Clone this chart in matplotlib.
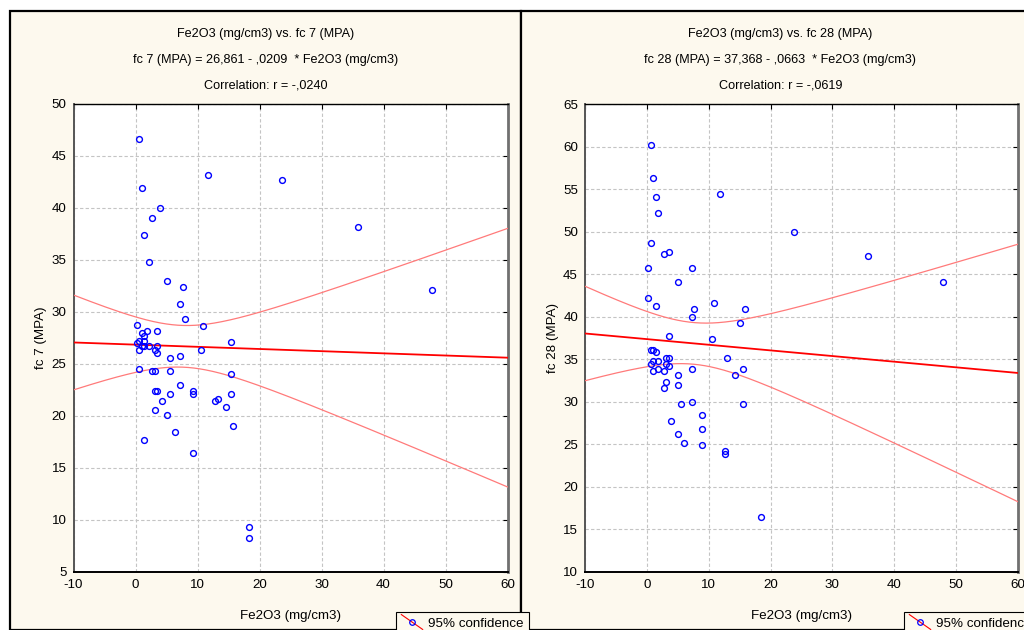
import numpy as np
import matplotlib
matplotlib.use("Agg")
import matplotlib.pyplot as plt
from matplotlib.lines import Line2D
from matplotlib.patches import Rectangle
from matplotlib.legend_handler import HandlerBase

plt.rcParams['font.family'] = ['Liberation Sans', 'DejaVu Sans']
plt.rcParams['axes.unicode_minus'] = False

# ---- data ----
fe_7 = [0.6, 1.0, 3.9, 2.7, 1.45, 2.25, 5.1, 7.6, 7.2, 8.0, 10.9, 11.7, 23.6,
        0.2, 1.0, 1.8, 1.45, 3.5, 0.2, 0.6, 1.45, 1.0, 0.6, 2.25, 1.45, 3.5,
        3.1, 3.5, 5.5, 7.2, 10.5, 15.4, 0.6, 2.7, 3.1, 5.5, 3.1, 3.5, 5.5,
        7.2, 9.2, 9.2, 4.3, 3.1, 5.1, 6.4, 1.45, 9.2, 12.9, 13.3, 14.6, 15.4,
        15.4, 15.8, 18.25, 18.25, 35.9, 47.8]
fc_7 = [46.6, 41.9, 40.0, 39.0, 37.4, 34.8, 33.0, 32.4, 30.8, 29.3, 28.7, 43.2, 42.7,
        28.75, 28.0, 28.2, 27.7, 28.2, 27.0, 27.2, 27.2, 26.7, 26.3, 26.7, 26.7, 26.7,
        26.3, 26.1, 25.6, 25.8, 26.3, 27.1, 24.5, 24.3, 24.3, 24.3, 22.4, 22.4, 22.1,
        22.95, 22.4, 22.1, 21.4, 20.6, 20.1, 18.5, 17.7, 16.4, 21.4, 21.6, 20.9, 22.1,
        24.0, 19.0, 9.3, 8.25, 38.2, 32.1]

fe_28 = [0.63, 1.0, 1.45, 1.8, 11.8, 23.8, 0.63, 2.7, 3.5, 0.2, 7.3, 5.1, 0.2,
         1.45, 10.9, 7.6, 15.9, 7.3, 15.1, 3.5, 10.5,
         0.63, 1.0, 1.45, 3.1, 3.5, 1.0, 1.8, 0.63, 3.1, 3.5, 1.8, 7.3, 1.0, 2.7,
         13.0, 15.5, 5.1, 14.3, 3.1, 5.1, 2.7, 5.6, 7.3, 15.5, 8.9, 3.9, 8.9, 5.1,
         6.0, 8.9, 12.6, 12.6, 18.4, 35.8, 47.8]
fc_28 = [60.2, 56.3, 54.1, 52.2, 54.4, 49.9, 48.7, 47.4, 47.6, 45.7, 45.7, 44.1, 42.25,
         41.3, 41.6, 40.9, 40.9, 40.0, 39.3, 37.75, 37.4,
         36.1, 36.1, 35.8, 35.15, 35.15, 34.8, 34.8, 34.5, 34.5, 34.2, 33.9, 33.9, 33.6, 33.6,
         35.15, 33.9, 33.2, 33.2, 32.3, 32.0, 31.6, 29.7, 30.0, 29.7, 28.4, 27.8, 26.8, 26.2,
         25.2, 24.9, 24.25, 23.9, 16.5, 47.1, 44.1]

# regression coefficients as printed on the chart
coef_7 = (26.861, -0.0209)
coef_28 = (37.368, -0.0663)

titles_7 = ["Fe2O3 (mg/cm3) vs. fc 7 (MPA)",
            "fc 7 (MPA) = 26,861 - ,0209  * Fe2O3 (mg/cm3)",
            "Correlation: r = -,0240"]
titles_28 = ["Fe2O3 (mg/cm3) vs. fc 28 (MPA)",
             "fc 28 (MPA) = 37,368 - ,0663  * Fe2O3 (mg/cm3)",
             "Correlation: r = -,0619"]

x_ticks = [-10, 0, 10, 20, 30, 40, 50, 60]
y_ticks_7 = [5, 10, 15, 20, 25, 30, 35, 40, 45, 50]
y_ticks_28 = [10, 15, 20, 25, 30, 35, 40, 45, 50, 55, 60, 65]

W, H = 1024, 630
PANEL = '#fdf9ee'
T_CRIT = 2.003


class DiagHandler(HandlerBase):
    def create_artists(self, legend, orig_handle, xdescent, ydescent,
                       width, height, fontsize, trans):
        x0, y0 = -xdescent, -ydescent
        ln = Line2D([x0, x0 + width], [y0 + height + 2, y0 - 2], color='red',
                    lw=0.8, transform=trans)
        dot = Line2D([x0 + width / 2], [y0 + height / 2], marker='o', ls='none',
                     mfc='none', mec='blue', ms=4, mew=0.9, transform=trans)
        return [ln, dot]


def fc(px, py, pw, ph):
    return [px / W, 1 - (py + ph) / H, pw / W, ph / H]


def draw(fig, left, right, xs, ys, coef, titles, yticks, ylabel, leg_x):
    center = (left + right) / 2
    fig.add_artist(Rectangle((left / W, 0), (right - left) / W, 1 - 11 / H,
                             transform=fig.transFigure, facecolor=PANEL,
                             edgecolor='black', lw=1.6, zorder=0))
    for i, t in enumerate(titles):
        fig.text(center / W, 1 - (34 + 25.5 * i) / H, t, ha='center',
                 va='center', fontsize=9.1)

    ax_left = left + 64
    ax = fig.add_axes(fc(ax_left, 104, 434 if left < 500 else 433, 468))
    ax.set_facecolor('white')
    xs = np.array(xs)
    ys = np.array(ys)

    a, b = coef
    xx = np.linspace(-10, 60, 300)
    yhat = a + b * xx
    n = len(xs)
    resid = ys - (a + b * xs)
    s = np.sqrt(np.sum(resid ** 2) / (n - 2))
    sxx = np.sum((xs - xs.mean()) ** 2)
    half = T_CRIT * s * np.sqrt(1 / n + (xx - xs.mean()) ** 2 / sxx)

    ax.plot(xx, yhat + half, color='#ff7a7a', lw=0.9, zorder=3)
    ax.plot(xx, yhat - half, color='#ff7a7a', lw=0.9, zorder=3)
    ax.plot(xx, yhat, color='red', lw=1.3, zorder=3)
    ax.plot(xs, ys, ls='none', marker='o', mfc='none', mec='blue', ms=4.2,
            mew=1.0, zorder=4)

    ax.set_xlim(-10, 60)
    ax.set_ylim(yticks[0], yticks[-1])
    ax.set_xticks(x_ticks)
    ax.set_yticks(yticks)
    ax.grid(True, color='#c4c4c4', ls=(0, (3, 2)), lw=0.8)
    ax.tick_params(axis='both', which='both', labelsize=9.6, length=0, pad=5)
    ax.tick_params(axis='x', top=True, direction='in', length=3.5)
    ax.tick_params(axis='y', right=True, direction='in', length=3.5)
    ax.tick_params(axis='x', bottom=False)
    ax.tick_params(axis='y', left=False)
    for side in ['left', 'bottom', 'top']:
        ax.spines[side].set_color('black')
    ax.spines['left'].set_linewidth(1.4)
    ax.spines['bottom'].set_linewidth(1.4)
    ax.spines['top'].set_linewidth(1.0)
    ax.spines['right'].set_color('#707070')
    ax.spines['right'].set_linewidth(2.0)
    ax.spines['left'].set_color('#555555')

    ax.set_xlabel("Fe2O3 (mg/cm3)", fontsize=9.6, labelpad=14)
    ax.set_ylabel(ylabel, fontsize=9.6, labelpad=3)

    leg = fig.legend([Line2D([], [])], ["95% confidence"],
                     handler_map={Line2D: DiagHandler()},
                     loc='upper left', bbox_to_anchor=(leg_x / W, 1 - 612 / H),
                     bbox_transform=fig.transFigure, borderaxespad=0,
                     fancybox=False, framealpha=1, edgecolor='black',
                     facecolor=PANEL, fontsize=9.6, handlelength=1.6,
                     handletextpad=0.4, borderpad=0.4)
    leg.get_frame().set_linewidth(0.8)
    return ax


fig = plt.figure(figsize=(W / 100, H / 100), dpi=100, facecolor='white')
draw(fig, 9.5, 521, fe_7, fc_7, coef_7, titles_7, y_ticks_7, "fc 7 (MPA)", 396)
draw(fig, 521, 1040, fe_28, fc_28, coef_28, titles_28, y_ticks_28, "fc 28 (MPA)", 904)

fig.savefig("out.png", dpi=100, facecolor='white')
